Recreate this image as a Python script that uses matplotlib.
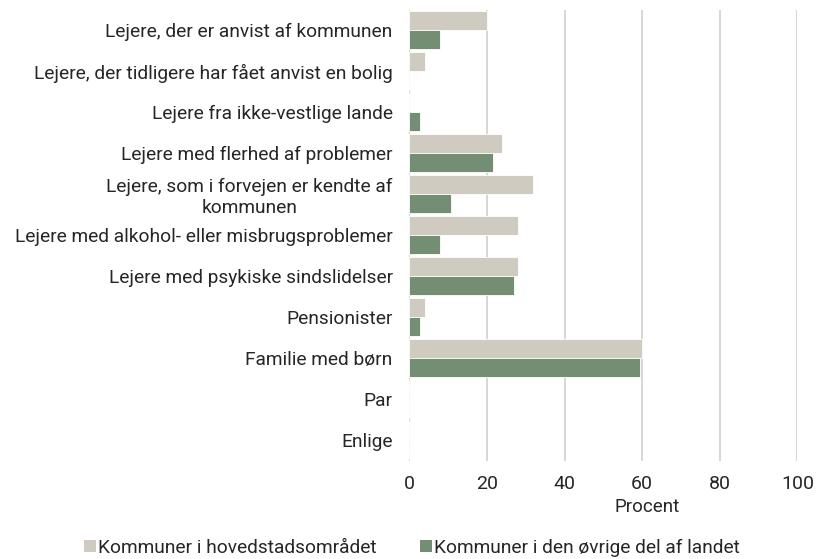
import numpy as np
import matplotlib
matplotlib.use("Agg")
import matplotlib.pyplot as plt
from matplotlib.patches import Patch

# ── Data ──────────────────────────────────────────────────────────────────
categories = [
    "Lejere, der er anvist af kommunen",
    "Lejere, der tidligere har fået anvist en bolig",
    "Lejere fra ikke-vestlige lande",
    "Lejere med flerhed af problemer",
    "Lejere, som i forvejen er kendte af\nkommunen",
    "Lejere med alkohol- eller misbrugsproblemer",
    "Lejere med psykiske sindslidelser",
    "Pensionister",
    "Familie med børn",
    "Par",
    "Enlige",
]
hovedstad = [20, 4, 0, 24, 32, 28, 28, 4, 60, 0, 0]
oevrige = [8, 0, 2.7, 21.6, 10.8, 8, 27, 2.7, 59.5, 0, 0]
series_names = ["Kommuner i hovedstadsområdet", "Kommuner i den øvrige del af landet"]
xticks = [0, 20, 40, 60, 80, 100]

LIGHT = "#CFCBC0"
GREEN = "#748E74"
TEXT = "#262626"

plt.rcParams["font.family"] = ["Roboto", "DejaVu Sans"]

fig = plt.figure(figsize=(8.16, 5.59), dpi=100)
ax = fig.add_axes([0.5016, 0.176, 0.4755, 0.807])

y = np.arange(len(categories))
h = 0.46
ax.barh(y - h / 2, hovedstad, height=h, color=LIGHT, edgecolor="white", linewidth=0.6, zorder=3)
ax.barh(y + h / 2, oevrige, height=h, color=GREEN, edgecolor="white", linewidth=0.6, zorder=3)

ax.set_ylim(len(categories) - 0.5, -0.5)
ax.set_xlim(0, 100)
ax.set_yticks(y)
ax.set_yticklabels(categories, fontsize=13.8, color=TEXT, multialignment="center")
ax.set_xticks(xticks)
ax.set_xticklabels([str(t) for t in xticks], fontsize=14, color=TEXT)
ax.tick_params(axis="both", length=0)
ax.tick_params(axis="y", pad=12)
ax.tick_params(axis="x", pad=10)

ax.grid(axis="x", color="#CCCCCC", linewidth=1.1, zorder=0)
for s in ax.spines.values():
    s.set_visible(False)

fig.text(647 / 816, 1 - 507 / 559, "Procent", fontsize=13.5, color=TEXT, ha="center", va="center")

handles = [Patch(facecolor=LIGHT), Patch(facecolor=GREEN)]
fig.legend(handles, series_names, loc="center", bbox_to_anchor=(412 / 816, 1 - 548 / 559),
           ncol=2, frameon=False, fontsize=13.8, handlelength=0.6, handleheight=0.6,
           handletextpad=0.1, columnspacing=2.3, labelcolor=TEXT)

fig.savefig("out.png", dpi=100)
